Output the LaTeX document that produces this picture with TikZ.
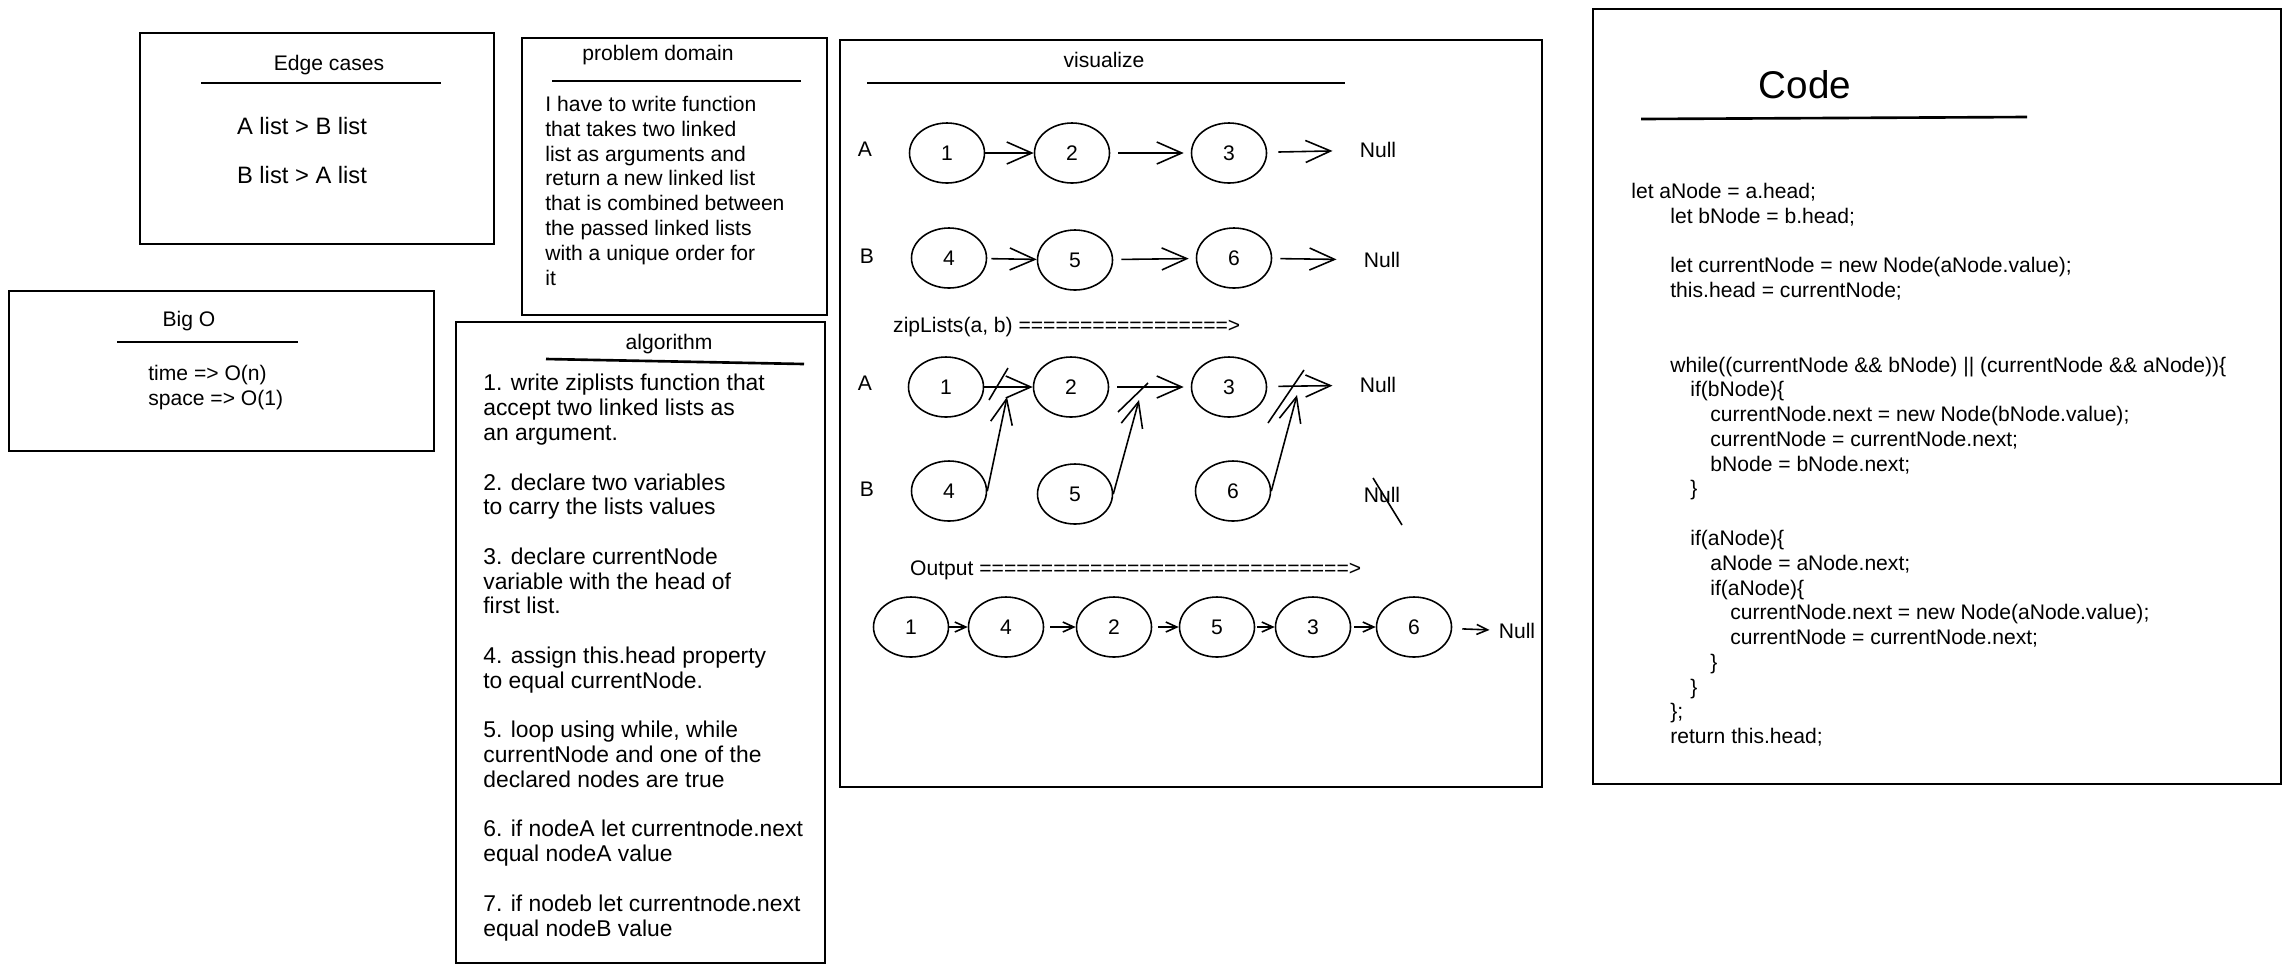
\documentclass[tikz,border=0pt]{standalone}
\usepackage{fontspec}
\setmainfont{Liberation Sans}
\usetikzlibrary{shapes.geometric, arrows.meta, positioning}

\begin{document}
\begin{tikzpicture}[
    x=0.2mm, y=-0.2mm,
    font=\fontsize{12}{14.1}\selectfont,
    panel/.style = {draw=black, line width=1.1pt},
    rule/.style = {line width=1.5pt},
    para/.style = {anchor=north west, align=left, inner sep=0pt},
    lnode/.style = {ellipse, draw=black, line width=0.9pt, minimum width=15mm,
                    minimum height=12mm, inner sep=0pt},
    nul/.style = {inner sep=0pt},
    arrow/.style = {line width=0.9pt, -{Straight Barb[length=5mm, width=4.4mm]}},
    tiny arrow/.style = {line width=0.9pt, -{Straight Barb[length=2.2mm, width=2mm]}},
    cut/.style = {line width=0.9pt}
]

    \useasboundingbox (0,0) rectangle (2291,972);

    % Edge cases
    \draw[panel] (140,33) rectangle (494,244);
    \node (edgetitle) at (329,65) {Edge cases};
    \draw[rule] (201,83) -- (441,83);
    \node[font=\fontsize{13.5}{14.1}\selectfont] (edge1) at (302,126) {A list > B list};
    \node[font=\fontsize{13.5}{14.1}\selectfont] (edge2) at (302,175) {B list > A list};

    % Problem domain
    \draw[panel] (522,38) rectangle (827,315);
    \node (probtitle) at (658,55) {problem domain};
    \draw[rule] (552,81) -- (801,81);
    \node[para] (prob) at (545,96) {I have to write function\\
        that takes two linked\\
        list as arguments and\\
        return a new linked list\\
        that is combined between\\
        the passed linked lists\\
        with a unique order for\\
        it};

    % Big O
    \draw[panel] (9,291) rectangle (434,451);
    \node (bigtitle) at (189,321) {Big O};
    \draw[rule] (117,342) -- (298,342);
    \node[para] (bigo) at (148,365) {time => O(n)\\ space => O(1)};

    % Algorithm
    \draw[panel] (456,322) rectangle (825,963);
    \node (algtitle) at (669,344) {algorithm};
    \draw[rule] (546,359) -- (804,364);
    \node[para, font=\fontsize{13}{14.1}\selectfont] (alg) at (483,374) {1. write ziplists function that\\
        accept two linked lists as\\
        an argument.\\[\baselineskip]
        2. declare two variables\\
        to carry the lists values\\[\baselineskip]
        3. declare currentNode\\
        variable with the head of\\
        first list.\\[\baselineskip]
        4. assign this.head property\\
        to equal currentNode.\\[\baselineskip]
        5. loop using while, while\\
        currentNode and one of the\\
        declared nodes are true\\[\baselineskip]
        6. if nodeA let currentnode.next\\
        equal nodeA value\\[\baselineskip]
        7. if nodeb let currentnode.next\\
        equal nodeB value};

    % Visualize
    \draw[panel] (840,40) rectangle (1542,787);
    \node (vistitle) at (1104,60) {visualize};
    \draw[rule] (867,83) -- (1345,83);

    % Lists A and B
    \node (labA) at (865,149) {A};
    \node[lnode] (a1) at (947,153) {1};
    \node[lnode] (a2) at (1072,153) {2};
    \node[lnode] (a3) at (1229,153) {3};
    \node[nul] (nullA) at (1378,150) {Null};

    \node (labB) at (867,256) {B};
    \node[lnode] (b4) at (949,258) {4};
    \node[lnode] (b5) at (1075,260) {5};
    \node[lnode] (b6) at (1234,258) {6};
    \node[nul] (nullB) at (1382,260) {Null};

    \draw[arrow] (a1) -- (a2);
    \draw[arrow, shorten <=1.6mm, shorten >=1.4mm] (a2) -- (a3);
    \draw[arrow, shorten <=2.2mm, shorten >=5.4mm] (a3) -- (nullA);
    \draw[arrow, shorten <=0.8mm] (b4) -- (b5);
    \draw[arrow, shorten <=1.6mm, shorten >=1.4mm] (b5) -- (b6);
    \draw[arrow, shorten <=1.6mm, shorten >=5.4mm] (b6) -- (nullB);

    % Zipping
    \node[anchor=west] (ziplabel) at (887,327) {zipLists(a, b) =================>};

    \node (labA2) at (865,383) {A};
    \node[lnode] (za1) at (946,387) {1};
    \node[lnode] (za2) at (1071,387) {2};
    \node[lnode] (za3) at (1229,387) {3};
    \node[nul] (nullA2) at (1378,385) {Null};

    \node (labB2) at (867,489) {B};
    \node[lnode] (zb4) at (949,491) {4};
    \node[lnode] (zb5) at (1075,494) {5};
    \node[lnode] (zb6) at (1233,491) {6};
    \node[nul] (nullB2) at (1382,495) {Null};

    \draw[arrow] (za1) -- (za2);
    \draw[arrow, shorten <=1.6mm, shorten >=1.4mm] (za2) -- (za3);
    \draw[arrow, shorten <=2.2mm, shorten >=5.4mm] (za3) -- (nullA2);

    \coordinate (join1) at (1007,397);
    \coordinate (join2) at (1139,400);
    \coordinate (join3) at (1297,395);
    \draw[arrow] (zb4.east) -- (join1);
    \draw[arrow] (zb5.east) -- (join2);
    \draw[arrow] (zb6.east) -- (join3);

    % broken links
    \draw[cut] (989,400) -- (1008,368);
    \draw[cut] (1118,412) -- (1148,383);
    \draw[cut] (1268,423) -- (1304,370);
    \draw[cut] (1373,478) -- (1402,525);

    % Output
    \node[anchor=west] (outlabel) at (904,570) {Output ==============================>};
    \node[lnode] (o1) at (911,627) {1};
    \node[lnode] (o4) at (1006,627) {4};
    \node[lnode] (o2) at (1114,627) {2};
    \node[lnode] (o5) at (1217,627) {5};
    \node[lnode] (o3) at (1313,627) {3};
    \node[lnode] (o6) at (1414,627) {6};
    \node[nul] (nullO) at (1517,631) {Null};

    \draw[tiny arrow] (o1) -- (o4);
    \draw[tiny arrow, shorten <=1.2mm] (o4) -- (o2);
    \draw[tiny arrow, shorten <=1.2mm] (o2) -- (o5);
    \draw[tiny arrow, shorten <=0.4mm] (o5) -- (o3);
    \draw[tiny arrow, shorten <=0.6mm] (o3) -- (o6);
    \draw[tiny arrow, shorten <=2mm, shorten >=1.8mm] (o6) -- (nullO);

    % Code
    \draw[panel] (1593,9) rectangle (2281,784);
    \node[font=\fontsize{22}{26}\selectfont] (codetitle) at (1805,85) {Code};
    \draw[rule] (1641,119) -- (2027,117);
    \node[para] (code) at (1631,183) {let aNode = a.head;\\
        \hspace*{7.8mm}let bNode = b.head;\\[\baselineskip]
        \hspace*{7.8mm}let currentNode = new Node(aNode.value);\\
        \hspace*{7.8mm}this.head = currentNode;\\[2\baselineskip]
        \hspace*{7.8mm}while((currentNode \&\& bNode) || (currentNode \&\& aNode))\{\\
        \hspace*{11.8mm}if(bNode)\{\\
        \hspace*{15.8mm}currentNode.next = new Node(bNode.value);\\
        \hspace*{15.8mm}currentNode = currentNode.next;\\
        \hspace*{15.8mm}bNode = bNode.next;\\
        \hspace*{11.8mm}\}\\[\baselineskip]
        \hspace*{11.8mm}if(aNode)\{\\
        \hspace*{15.8mm}aNode = aNode.next;\\
        \hspace*{15.8mm}if(aNode)\{\\
        \hspace*{19.8mm}currentNode.next = new Node(aNode.value);\\
        \hspace*{19.8mm}currentNode = currentNode.next;\\
        \hspace*{15.8mm}\}\\
        \hspace*{11.8mm}\}\\
        \hspace*{7.8mm}\};\\
        \hspace*{7.8mm}return this.head;};

\end{tikzpicture}
\end{document}
